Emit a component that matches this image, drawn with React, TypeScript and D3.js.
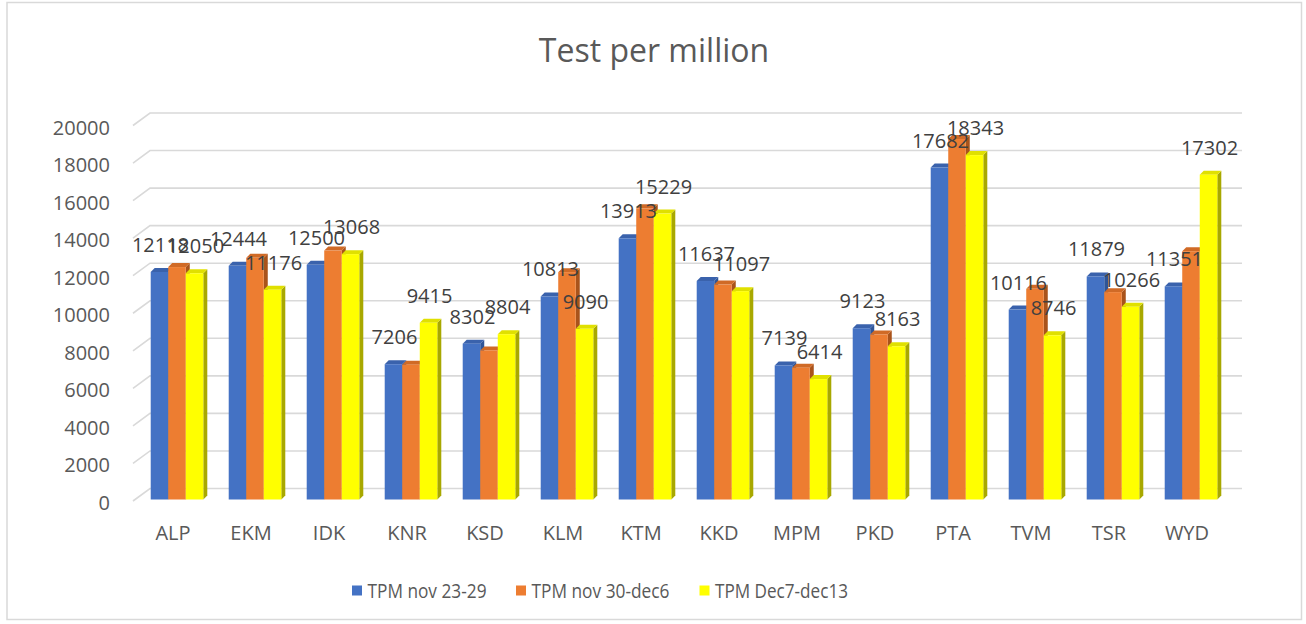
import React from "react";
import * as d3 from "d3";

const categories = ["ALP", "EKM", "IDK", "KNR", "KSD", "KLM", "KTM", "KKD", "MPM", "PKD", "PTA", "TVM", "TSR", "WYD"];
const seriesNames = ["TPM nov 23-29", "TPM nov 30-dec6", "TPM Dec7-dec13"];
const tpmNov23 = [12118, 12444, 12500, 7206, 8302, 10813, 13913, 11637, 7139, 9123, 17682, 10116, 11879, 11351];
const tpmNov30 = [12380, 12870, 13260, 7180, 7940, 12110, 15510, 11450, 7020, 8790, 19200, 11220, 11045, 13225];
const tpmDec7 = [12050, 11176, 13068, 9415, 8804, 9090, 15229, 11097, 6414, 8163, 18343, 8746, 10266, 17302];
const yTicks = [0, 2000, 4000, 6000, 8000, 10000, 12000, 14000, 16000, 18000, 20000];
const showLabel = [true, false, true];

const seriesValues = [tpmNov23, tpmNov30, tpmDec7];
const front = ["#4472C4", "#ED7D31", "#FFFF00"];
const topC = ["#3A62AC", "#D06A26", "#E0E000"];
const sideC = ["#2F5597", "#A9531B", "#A8A800"];

const W = 1306, H = 624;
const DX = 4, DY = 4;

export default function App() {
  const y = d3.scaleLinear().domain([0, 20000]).range([499.5, 124]);
  const x0 = d3.scaleBand<string>().domain(categories).range([138, 1230]).paddingInner(0.326).paddingOuter(0.163);
  const x1 = d3.scaleBand<number>().domain([0, 1, 2]).range([0, x0.bandwidth()]);
  const font = "'Open Sans', 'Liberation Sans', sans-serif";
  const legendX = [352, 516, 699.5];
  const legendLen = [119, 138, 133];

  return (
    <svg width={W} height={H} style={{ position: "absolute", left: 0, top: 0, background: "#fff" }} fontFamily={font}>
      <rect x={7} y={2.5} width={1294.5} height={617} fill="#fff" stroke="#d9d9d9" strokeWidth={1.5} />
      <text x={654} y={62} textAnchor="middle" fontSize={32} fill="#595959">Test per million</text>
      {yTicks.map((t) => {
        const yy = y(t);
        return (
          <g key={t}>
            <polyline points={`133,${yy + 1.5} 150,${yy - 11} 1242,${yy - 11}`} fill="none" stroke="#d9d9d9" strokeWidth={1.6} />
            <text x={110} y={yy + 10.5} textAnchor="end" fontSize={20} fill="#595959">{t}</text>
          </g>
        );
      })}
      {categories.map((c, i) => (
        <g key={c}>
          {seriesValues.map((vals, s) => {
            const bx = (x0(c) as number) + (x1(s) as number);
            const bw = x1.bandwidth();
            const yt = y(vals[i]);
            const yb = y(0);
            return (
              <g key={s}>
                <polygon points={`${bx + bw},${yt} ${bx + bw + DX},${yt - DY} ${bx + bw + DX},${yb - DY} ${bx + bw},${yb}`} fill={sideC[s]} />
                <polygon points={`${bx},${yt} ${bx + DX},${yt - DY} ${bx + bw + DX},${yt - DY} ${bx + bw},${yt}`} fill={topC[s]} />
                <rect x={bx} y={yt} width={bw} height={yb - yt} fill={front[s]} />
              </g>
            );
          })}
        </g>
      ))}
      {categories.map((c, i) => (
        <g key={"l" + c}>
          {seriesValues.map((vals, s) =>
            showLabel[s] ? (
              <text key={s} x={(x0(c) as number) + (x1(s) as number) + x1.bandwidth() / 2 + 1} y={y(vals[i]) - 20} textAnchor="middle" fontSize={20} fill="#404040">
                {vals[i]}
              </text>
            ) : null
          )}
          <text x={(x0(c) as number) + x0.bandwidth() / 2 - 4} y={540} textAnchor="middle" fontSize={20} fill="#595959">{c}</text>
        </g>
      ))}
      {seriesNames.map((n, s) => (
        <g key={n}>
          <rect x={legendX[s]} y={585.5} width={10} height={10} fill={front[s]} />
          <text x={legendX[s] + 15.5} y={597.5} fontSize={20} fill="#595959" textLength={legendLen[s]} lengthAdjust="spacingAndGlyphs">{n}</text>
        </g>
      ))}
    </svg>
  );
}
